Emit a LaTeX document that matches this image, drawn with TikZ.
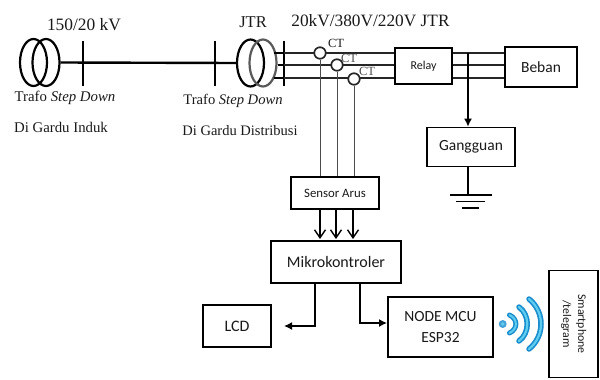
\documentclass[tikz,border=0pt]{standalone}
\usepackage{fontspec}
\setmainfont{Liberation Serif}
\newfontfamily\calfont{Carlito}
\usetikzlibrary{shapes.geometric,arrows.meta,calc}
\definecolor{wifi}{RGB}{25,140,205}
\definecolor{wifilight}{RGB}{95,205,240}
\tikzset{
  x=1pt,y=-1pt,
  box/.style={draw=black,line width=1.9pt,inner sep=0pt,font=\calfont,text=black!90},
  trafo/.style={draw=black,ellipse,line width=2.2pt,minimum width=27pt,minimum height=47pt,inner sep=0pt},
  ctc/.style={draw=black!85,circle,line width=1.7pt,minimum size=11.5pt,inner sep=0pt},
  bus/.style={line width=2pt},
  phase/.style={line width=1.5pt,black!85},
  sense/.style={line width=.9pt,black!70},
  arr/.style={line width=1.4pt,-{Straight Barb[length=8pt,width=11pt,line width=1.4pt]}},
  arrs/.style={line width=1.5pt,-{Latex[length=8pt,width=8pt]}},
  lab/.style={inner sep=0pt,text=black!90},
  wave/.style={wifi,line cap=round},
  wavein/.style={wifilight,line cap=round}
}
\begin{document}
\begin{tikzpicture}
\useasboundingbox (0,0) rectangle (600,380);
% transformers
\node[trafo] (t1a) at (33.5,62.5) {};
\node[trafo] (t1b) at (46,62.5) {};
\node[trafo] (t2a) at (250.5,63) {};
\node[trafo,draw=black!65] (t2b) at (263,63) {};
% bus bars
\coordinate (b1t) at (82.5,41); \coordinate (b1b) at (82.5,86);
\coordinate (b2t) at (215,41); \coordinate (b2b) at (215,86);
\coordinate (b3t) at (283.5,41); \coordinate (b3b) at (283.5,86);
\draw[bus] (b1t) -- (b1b);
\draw[bus] (b2t) -- (b2b);
\draw[bus] (b3t) -- (b3b);
\draw[line width=2.4pt] (t1b.east) -- (t2a.west);
% boxes
\node[box,minimum width=57pt,minimum height=36pt,font=\calfont\fontsize{12}{14}\selectfont] (relay) at (423.5,66) {Relay};
\node[box,line width=2.2pt,minimum width=72pt,minimum height=40pt,font=\calfont\fontsize{15.5}{17}\selectfont] (beban) at (541,67) {Beban};
\node[box,line width=1.7pt,minimum width=88pt,minimum height=39pt,font=\calfont\fontsize{15.5}{17}\selectfont] (gang) at (471,147) {Gangguan};
\node[box,line width=1.7pt,minimum width=88pt,minimum height=32pt,font=\calfont\fontsize{12.8}{15}\selectfont] (sensor) at (335,193) {Sensor Arus};
\node[box,line width=1.6pt,minimum width=130pt,minimum height=42pt,font=\calfont\fontsize{16}{18}\selectfont] (mikro) at (336,262) {Mikrokontroler};
\node[box,line width=1.6pt,minimum width=68pt,minimum height=42pt,font=\calfont\fontsize{16}{18}\selectfont] (lcd) at (237,326) {LCD};
\node[box,minimum width=105pt,minimum height=60pt,align=center,font=\calfont\fontsize{15.5}{21}\selectfont] (node) at (440.5,327) {NODE MCU\\ESP32};
\node[box,line width=1.5pt,minimum width=49pt,minimum height=107pt,font=\calfont\fontsize{11.8}{15}\selectfont] (phone) at (573.5,324) {\rotatebox{-90}{\begin{tabular}{@{}c@{}}Smartphone\\/telegram\end{tabular}}};
% phases
\coordinate (p1) at (283.5,53); \coordinate (p2) at (283.5,65); \coordinate (p3) at (283.5,78);
\draw[phase] (p1) -- (p1 -| relay.west);
\draw[phase] (p2) -- (p2 -| relay.west);
\draw[phase] (p3) -- (p3 -| relay.west);
\draw[phase] (p1 -| relay.east) -- (p1 -| beban.west);
\draw[phase] (p2 -| relay.east) -- (p2 -| beban.west);
\draw[phase] (p3 -| relay.east) -- (p3 -| beban.west);
\draw[line width=1.6pt] (t2b.east |- p1) ++(-4,0) -- (p1);
\draw[line width=1.6pt] (t2b.east |- p2) -- (p2);
\draw[line width=1.6pt] (t2b.east |- p3) ++(-4,0) -- (p3);
% CT
\node[ctc,fill=white] (ct1) at (320,53) {};
\node[ctc,fill=white] (ct2) at (337,65) {};
\node[ctc,fill=white] (ct3) at (354,79) {};
\draw[sense] (ct1.south) -- (ct1.south |- sensor.north);
\draw[sense] (ct2.south) -- (ct2.south |- sensor.north);
\draw[sense] (ct3.south) -- (ct3.south |- sensor.north);
% sensor arrows
\coordinate (m1) at (320,239); \coordinate (m2) at (336,239); \coordinate (m3) at (353,239);
\draw[arr] (m1 |- sensor.south) -- (m1);
\draw[arr] (m2 |- sensor.south) -- (m2);
\draw[arr] (m3 |- sensor.south) -- (m3);
% fault
\coordinate (ft) at (468,53);
\draw[arrs] (ft) -- (ft |- gang.north);
\coordinate (g1) at (468,195);
\draw[line width=1.5pt] (g1 |- gang.south) -- (g1);
\draw[line width=1.7pt] (450,195) -- (492,195);
\draw[line width=1.7pt] (456,201.5) -- (485,201.5);
\draw[line width=1.7pt] (462,208) -- (479,208);
% mikro outputs
\coordinate (ol) at (315,283); \coordinate (or) at (360,283);
\coordinate (le) at (284,326); \coordinate (re) at (388,323);
\draw[line width=2.4pt] (ol) -- (or);
\draw[arrs] (ol) -- (ol |- le) -- (le);
\draw[arrs] (or) -- (or |- re) -- (node.west |- re);
% wifi
\fill[wifi!80] (502.7,324) circle (4);
\draw[wave,line width=5pt] (509.5,315) .. controls (518,319) and (518,329) .. (509.5,333);
\draw[wave,line width=5.5pt] (519,307) .. controls (530,315) and (530,333) .. (519,341);
\draw[wave,line width=5.5pt] (529,299) .. controls (545,312) and (545,336) .. (529,349);
\fill[wifilight] (502.7,324) circle (1.8);
\draw[wavein,line width=2pt] (509.5,315) .. controls (518,319) and (518,329) .. (509.5,333);
\draw[wavein,line width=2.2pt] (519,307) .. controls (530,315) and (530,333) .. (519,341);
\draw[wavein,line width=2.2pt] (529,299) .. controls (545,312) and (545,336) .. (529,349);
% labels
\node[lab,font=\fontsize{17.4}{19}\selectfont] (l150) at (84,25) {150/20 kV};
\node[lab,font=\fontsize{16.5}{18}\selectfont] (ljtr) at (253,22) {JTR};
\node[lab,font=\fontsize{17.3}{19}\selectfont] (l20) at (370.5,21) {20kV/380V/220V JTR};
\node[lab,font=\fontsize{14.8}{16}\selectfont] (t1l1) at (65,97.5) {Trafo \textit{Step Down}};
\node[lab,font=\fontsize{14.8}{16}\selectfont] (t1l2) at (61,127) {Di Gardu Induk};
\node[lab,font=\fontsize{14.6}{16}\selectfont] (t2l1) at (233,101) {Trafo \textit{Step Down}};
\node[lab,font=\fontsize{14.5}{16}\selectfont] (t2l2) at (240,131) {Di Gardu Distribusi};
\node[lab,font=\fontsize{12.5}{14}\selectfont] (c1) at (336,43) {CT};
\node[lab,font=\fontsize{12.5}{14}\selectfont,text=black!70] (c2) at (349,58) {CT};
\node[lab,font=\fontsize{12.5}{14}\selectfont,text=black!70] (c3) at (367,71) {CT};
\end{tikzpicture}
\end{document}
